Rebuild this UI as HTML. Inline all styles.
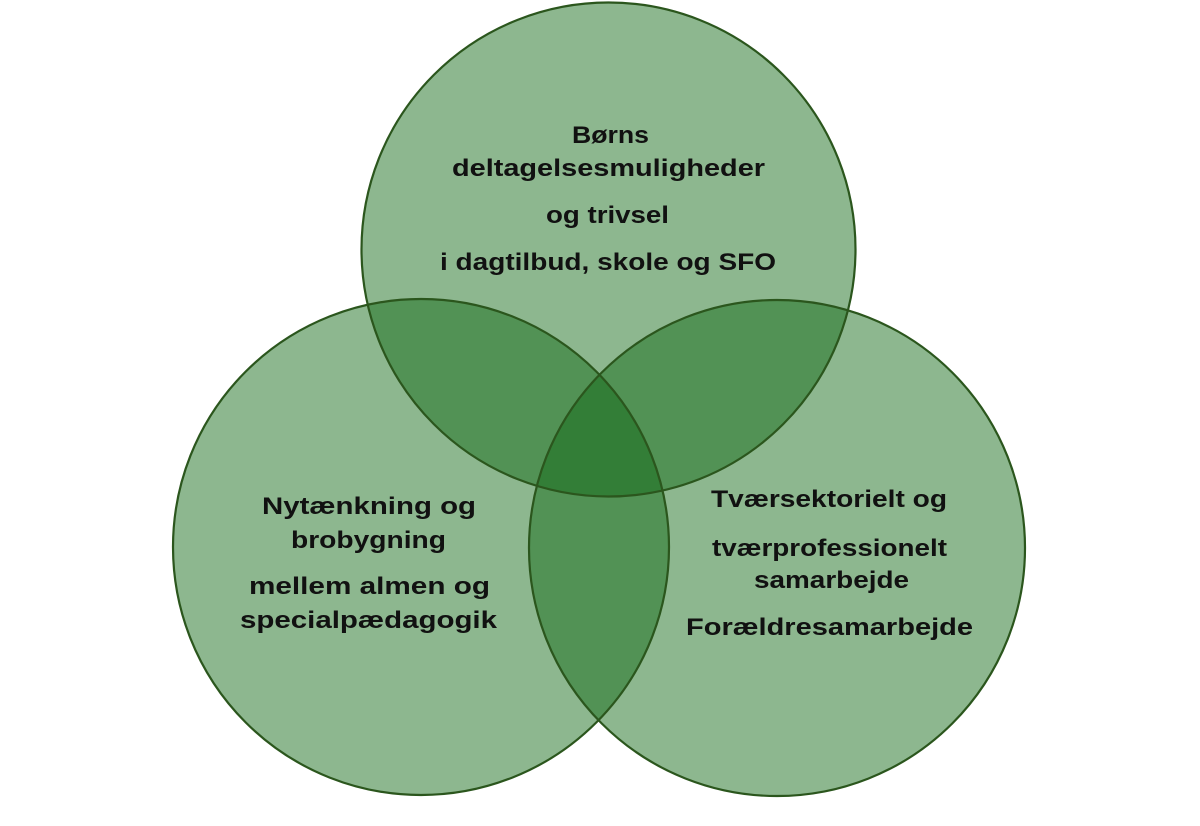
<!DOCTYPE html>
<html><head><meta charset="utf-8"><style>
html,body{margin:0;padding:0;background:#fff;}
svg{display:block;}
text{font-family:"Liberation Sans",sans-serif;font-weight:bold;font-size:24px;fill:#111;}
</style></head><body>
<svg width="1200" height="826" viewBox="0 0 1200 826">
<g fill="rgb(19,106,23)" fill-opacity="0.483">
<circle cx="608.5" cy="249.5" r="247"/>
<circle cx="421" cy="547" r="248"/>
<circle cx="777" cy="548" r="248"/>
</g>
<g fill="none" stroke="#2b561d" stroke-width="2.2">
<circle cx="608.5" cy="249.5" r="247"/>
<circle cx="421" cy="547" r="248"/>
<circle cx="777" cy="548" r="248"/>
</g>
<g lengthAdjust="spacingAndGlyphs">
<text x="572" y="143" textLength="77" lengthAdjust="spacingAndGlyphs">Børns</text>
<text x="452" y="176" textLength="313" lengthAdjust="spacingAndGlyphs">deltagelsesmuligheder</text>
<text x="546" y="223" textLength="123" lengthAdjust="spacingAndGlyphs">og trivsel</text>
<text x="440" y="270" textLength="336" lengthAdjust="spacingAndGlyphs">i dagtilbud, skole og SFO</text>
<text x="262" y="514" textLength="214" lengthAdjust="spacingAndGlyphs">Nytænkning og</text>
<text x="291" y="548" textLength="155" lengthAdjust="spacingAndGlyphs">brobygning</text>
<text x="249" y="594" textLength="241" lengthAdjust="spacingAndGlyphs">mellem almen og</text>
<text x="240" y="628" textLength="257" lengthAdjust="spacingAndGlyphs">specialpædagogik</text>
<text x="711" y="507" textLength="236" lengthAdjust="spacingAndGlyphs">Tværsektorielt og</text>
<text x="712" y="556" textLength="235" lengthAdjust="spacingAndGlyphs">tværprofessionelt</text>
<text x="754" y="588" textLength="155" lengthAdjust="spacingAndGlyphs">samarbejde</text>
<text x="686" y="635" textLength="287" lengthAdjust="spacingAndGlyphs">Forældresamarbejde</text>
</g>
</svg>
</body></html>
